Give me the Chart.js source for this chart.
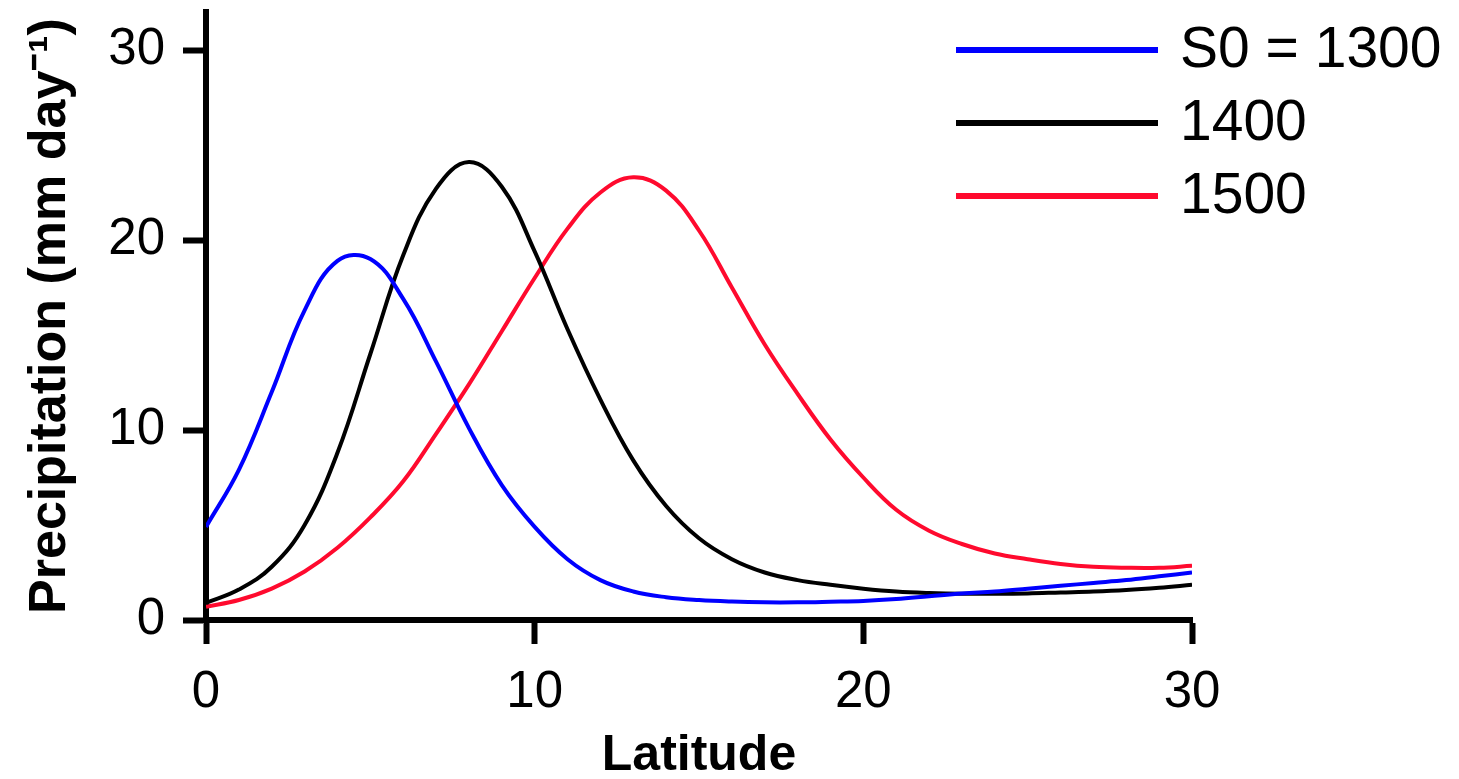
<!DOCTYPE html>
<html>
<head>
<meta charset="utf-8">
<title>Precipitation vs latitude</title>
<script src="https://cdn.jsdelivr.net/npm/chart.js@4"></script>
<style>
  html, body { margin: 0; padding: 0; background: #fff; }
  canvas { display: block; }
</style>
</head>
<body>
<canvas id="precipChart" width="1459" height="779"></canvas>
<script>
// --- DATA ---
const latitudes = [0, 1, 2, 3, 4, 5, 6, 7, 8, 9, 10, 11, 12, 13, 14, 15,
                   16, 17, 18, 19, 20, 21, 22, 23, 24, 25, 26, 27, 28, 29, 30];
const seriesLabels = ['S0 = 1300', '1400', '1500'];
const precip1300 = [4.9, 7.9, 12.0, 16.3, 18.9, 19.0, 16.9, 13.6, 10.1, 7.1, 4.9,
                    3.2, 2.1, 1.5, 1.2, 1.05, 0.97, 0.93, 0.93, 0.96, 1.0,
                    1.1, 1.25, 1.4, 1.5, 1.65, 1.8, 1.95, 2.1, 2.3, 2.5];
const precip1400 = [0.9, 1.6, 2.8, 5.0, 8.8, 14.0, 19.2, 22.7, 24.1, 22.8, 19.4,
                    15.3, 11.6, 8.4, 6.0, 4.3, 3.2, 2.5, 2.1, 1.85, 1.65,
                    1.5, 1.42, 1.38, 1.38, 1.4, 1.45, 1.5, 1.58, 1.7, 1.85];
const precip1500 = [0.7, 1.05, 1.65, 2.55, 3.8, 5.4, 7.3, 9.8, 12.4, 15.2, 18.0,
                    20.6, 22.5, 23.3, 22.6, 20.5, 17.5, 14.5, 11.9, 9.5, 7.5,
                    5.8, 4.7, 4.0, 3.5, 3.2, 2.95, 2.8, 2.75, 2.75, 2.85];
const xTicks = [0, 10, 20, 30];
const yTicks = [0, 10, 20, 30];

const seriesColors = ['#0000ff', '#000000', '#ff0a2e'];
const FONT = "'Liberation Sans', Arial, Helvetica, sans-serif";

const toPoints = (ys) => ys.map((y, i) => ({ x: latitudes[i], y: y }));

// --- LEGEND PLUGIN (lines + labels at top right) ---
const lineLegend = {
    id: 'lineLegend',
    afterDraw(chart) {
        const ctx = chart.ctx;
        const rowsY = [50, 123, 196];
        ctx.save();
        chart.data.datasets.forEach((ds, i) => {
            ctx.strokeStyle = ds.borderColor;
            ctx.lineWidth = 6;
            ctx.beginPath();
            ctx.moveTo(956, rowsY[i]);
            ctx.lineTo(1158, rowsY[i]);
            ctx.stroke();
            ctx.fillStyle = '#000';
            ctx.font = `57px ${FONT}`;
            ctx.textBaseline = 'middle';
            ctx.textAlign = 'left';
            ctx.fillText(ds.label, 1180, rowsY[i] + 1);
        });
        ctx.restore();
    }
};

// --- CHART ---
const ctx = document.getElementById('precipChart').getContext('2d');
new Chart(ctx, {
    type: 'line',
    data: {
        datasets: [
            { label: seriesLabels[0], data: toPoints(precip1300), borderColor: seriesColors[0] },
            { label: seriesLabels[1], data: toPoints(precip1400), borderColor: seriesColors[1] },
            { label: seriesLabels[2], data: toPoints(precip1500), borderColor: seriesColors[2] }
        ]
    },
    options: {
        responsive: false,
        animation: false,
        layout: { padding: { top: 12, right: 267, left: 0, bottom: 0 } },
        elements: {
            line: { borderWidth: 4, tension: 0.4, fill: false },
            point: { radius: 0 }
        },
        plugins: {
            legend: { display: false },
            tooltip: { enabled: false }
        },
        scales: {
            x: {
                type: 'linear',
                min: 0,
                max: 30,
                afterBuildTicks: (scale) => { scale.ticks = xTicks.map(v => ({ value: v })); },
                afterFit: (scale) => {
                    scale.height = 159;
                    scale.paddingLeft = 0;
                    scale.paddingRight = 0;
                },
                grid: { drawOnChartArea: false, drawTicks: true, tickLength: 24, tickWidth: 6, tickColor: '#000' },
                border: { display: true, color: '#000', width: 6 },
                ticks: { color: '#000', padding: 18, font: { family: FONT, size: 51 } },
                title: {
                    display: true,
                    text: 'Latitude',
                    color: '#000',
                    font: { family: FONT, size: 50, weight: 'bold', lineHeight: 0.9 },
                    padding: { top: 0, bottom: 0 }
                }
            },
            y: {
                type: 'linear',
                min: 0,
                max: 32,
                afterBuildTicks: (scale) => { scale.ticks = yTicks.map(v => ({ value: v })); },
                afterFit: (scale) => {
                    scale.width = 206;
                    scale.paddingTop = 0;
                    scale.paddingBottom = 0;
                },
                grid: { drawOnChartArea: false, drawTicks: true, tickLength: 23, tickWidth: 6, tickColor: '#000' },
                border: { display: true, color: '#000', width: 6 },
                ticks: { color: '#000', padding: 18, font: { family: FONT, size: 51 } },
                title: {
                    display: true,
                    text: 'Precipitation (mm day\u207B\u00B9)',
                    color: '#000',
                    font: { family: FONT, size: 52, weight: 'bold', lineHeight: 1 },
                    padding: { top: 25, bottom: 0 }
                }
            }
        }
    },
    plugins: [lineLegend]
});
</script>
</body>
</html>
